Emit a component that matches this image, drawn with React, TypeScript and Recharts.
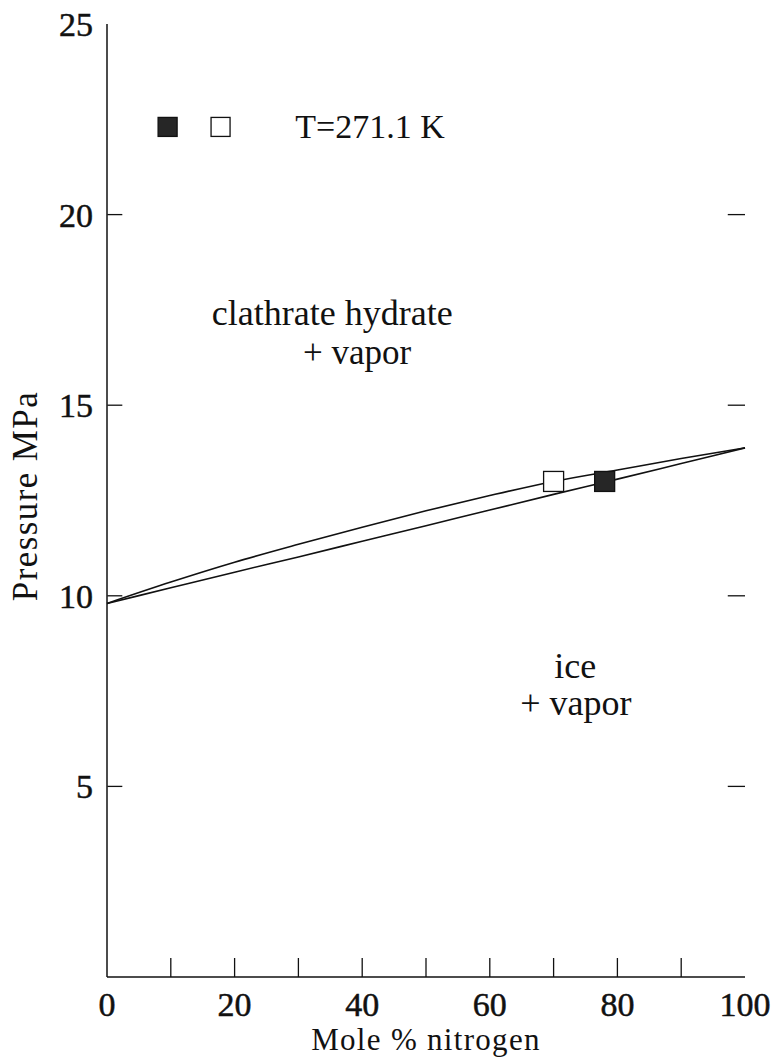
import React from "react";
import {
  ComposedChart,
  Line,
  Scatter,
  XAxis,
  YAxis,
  ReferenceDot,
  ReferenceLine,
} from "recharts";

// mole % nitrogen along the two boundary curves
const NITROGEN = [0, 10, 20, 30, 40, 50, 60, 70, 80, 90, 100];
const HYDRATE_CURVE = [9.8, 10.36, 10.88, 11.35, 11.8, 12.23, 12.63, 13.0, 13.3, 13.6, 13.88];
const ICE_CURVE = [9.8, 10.21, 10.62, 11.02, 11.43, 11.84, 12.25, 12.66, 13.06, 13.47, 13.88];

// measured points at T=271.1 K
const FILLED_POINTS = [{ n: 78, p: 13.0 }];
const OPEN_POINTS = [{ n: 70, p: 13.0 }];

// legend symbols drawn inside the plot
const LEGEND_FILLED = [{ n: 9.5, p: 22.3 }];
const LEGEND_OPEN = [{ n: 17.8, p: 22.3 }];

const X_TICKS = [0, 10, 20, 30, 40, 50, 60, 70, 80, 90, 100];
const X_LABELED = [0, 20, 40, 60, 80, 100];
const Y_TICKS = [0, 5, 10, 15, 20, 25];
const Y_LABELED = [5, 10, 15, 20, 25];
const Y_INNER_TICKS = [5, 10, 15, 20];

const rows = NITROGEN.map((n, i) => ({
  n,
  hydrate: HYDRATE_CURVE[i],
  ice: ICE_CURVE[i],
}));

const FONT = "'Liberation Serif', 'DejaVu Serif', serif";
const INK = "#111";

const XTick = ({ x, y, payload }: any) => {
  const v = payload.value;
  const inner = v !== 0 && v !== 100;
  return (
    <g>
      {inner && <line x1={x} x2={x} y1={y} y2={y - 19} stroke={INK} strokeWidth={1.3} />}
      {X_LABELED.includes(v) && (
        <text
          x={x}
          y={y + 39}
          textAnchor="middle"
          fontSize={34}
          fontFamily={FONT}
          fill={INK}
          stroke={INK}
          strokeWidth={0.5}
        >
          {v}
        </text>
      )}
    </g>
  );
};

const YTickLeft = ({ y, payload }: any) => {
  const v = payload.value;
  if (!Y_LABELED.includes(v)) return <g />;
  return (
    <text
      x={93}
      y={y + 12}
      textAnchor="end"
      fontSize={34}
      fontFamily={FONT}
      fill={INK}
      stroke={INK}
      strokeWidth={0.5}
    >
      {v}
    </text>
  );
};

const square = (filled: boolean, size: number) => (props: any) => {
  const { cx, cy } = props;
  return (
    <rect
      x={cx - size / 2}
      y={cy - size / 2}
      width={size}
      height={size}
      fill={filled ? "#262626" : "#fff"}
      stroke={INK}
      strokeWidth={1.3}
    />
  );
};

const textAt =
  (value: string, size: number, anchor: "start" | "middle" = "middle") =>
  (props: any) => (
    <text
      x={props.cx}
      y={props.cy}
      textAnchor={anchor}
      fontSize={size}
      fontFamily={FONT}
      fill={INK}
    >
      {value}
    </text>
  );

export default function App() {
  return (
    <div style={{ position: "absolute", left: 0, top: 0, background: "#fff" }}>
      <ComposedChart
        width={771}
        height={1062}
        data={rows}
        margin={{ top: 24, right: 26, left: 0, bottom: 0 }}
      >
        <XAxis
          dataKey="n"
          type="number"
          domain={[0, 100]}
          ticks={X_TICKS}
          interval={0}
          height={85}
          tickSize={0}
          tickMargin={0}
          tickLine={false}
          tick={<XTick />}
          axisLine={{ stroke: INK, strokeWidth: 1.5 }}
          label={{
            content: ({ viewBox }: any) => (
              <text
                x={viewBox.x + viewBox.width / 2}
                y={viewBox.y + 73}
                textAnchor="middle"
                fontSize={31}
                letterSpacing={1.3}
                fontFamily={FONT}
                fill={INK}
              >
                Mole % nitrogen
              </text>
            ),
          }}
        />
        <XAxis
          xAxisId="top"
          orientation="top"
          type="number"
          domain={[0, 100]}
          height={0}
          tick={false}
          tickLine={false}
          axisLine={{ stroke: INK, strokeWidth: 1.5 }}
        />
        <YAxis
          type="number"
          domain={[0, 25]}
          ticks={Y_TICKS}
          interval={0}
          width={107}
          tickSize={0}
          tickMargin={0}
          tickLine={false}
          tick={<YTickLeft />}
          axisLine={{ stroke: INK, strokeWidth: 1.5 }}
          label={{
            content: () => (
              <text
                x={37}
                y={496}
                transform="rotate(-90, 37, 496)"
                textAnchor="middle"
                fontSize={35}
                letterSpacing={1.4}
                fontFamily={FONT}
                fill={INK}
              >
                Pressure MPa
              </text>
            ),
          }}
        />
        <YAxis
          yAxisId="right"
          orientation="right"
          type="number"
          domain={[0, 25]}
          width={0}
          tick={false}
          tickLine={false}
          axisLine={{ stroke: INK, strokeWidth: 1.5 }}
        />

        {/* inward ticks on both vertical edges */}
        {Y_INNER_TICKS.map((p) => (
          <ReferenceLine
            key={`l${p}`}
            segment={[{ x: 0.05, y: p }, { x: 2.4, y: p }]}
            ifOverflow="visible"
            stroke={INK}
            strokeWidth={1.3}
          />
        ))}
        {Y_INNER_TICKS.map((p) => (
          <ReferenceLine
            key={`r${p}`}
            segment={[{ x: 97.3, y: p }, { x: 100, y: p }]}
            stroke={INK}
            strokeWidth={1.3}
          />
        ))}

        <Line
          dataKey="hydrate"
          type="monotone"
          stroke={INK}
          strokeWidth={1.6}
          dot={false}
          isAnimationActive={false}
        />
        <Line
          dataKey="ice"
          type="monotone"
          stroke={INK}
          strokeWidth={1.6}
          dot={false}
          isAnimationActive={false}
        />

        <Scatter data={OPEN_POINTS} dataKey="p" shape={square(false, 20)} isAnimationActive={false} />
        <Scatter data={FILLED_POINTS} dataKey="p" shape={square(true, 20)} isAnimationActive={false} />
        <Scatter data={LEGEND_FILLED} dataKey="p" shape={square(true, 19)} isAnimationActive={false} />
        <Scatter data={LEGEND_OPEN} dataKey="p" shape={square(false, 19)} isAnimationActive={false} />

        <ReferenceDot x={29.5} y={22.02} r={0} shape={textAt("T=271.1 K", 34, "start")} />
        <ReferenceDot x={35.3} y={17.1} r={0} shape={textAt("clathrate hydrate", 36)} />
        <ReferenceDot x={39.2} y={16.08} r={0} shape={textAt("+ vapor", 35)} />
        <ReferenceDot x={73.4} y={7.84} r={0} shape={textAt("ice", 36)} />
        <ReferenceDot x={73.5} y={6.88} r={0} shape={textAt("+ vapor", 36)} />
      </ComposedChart>
    </div>
  );
}
